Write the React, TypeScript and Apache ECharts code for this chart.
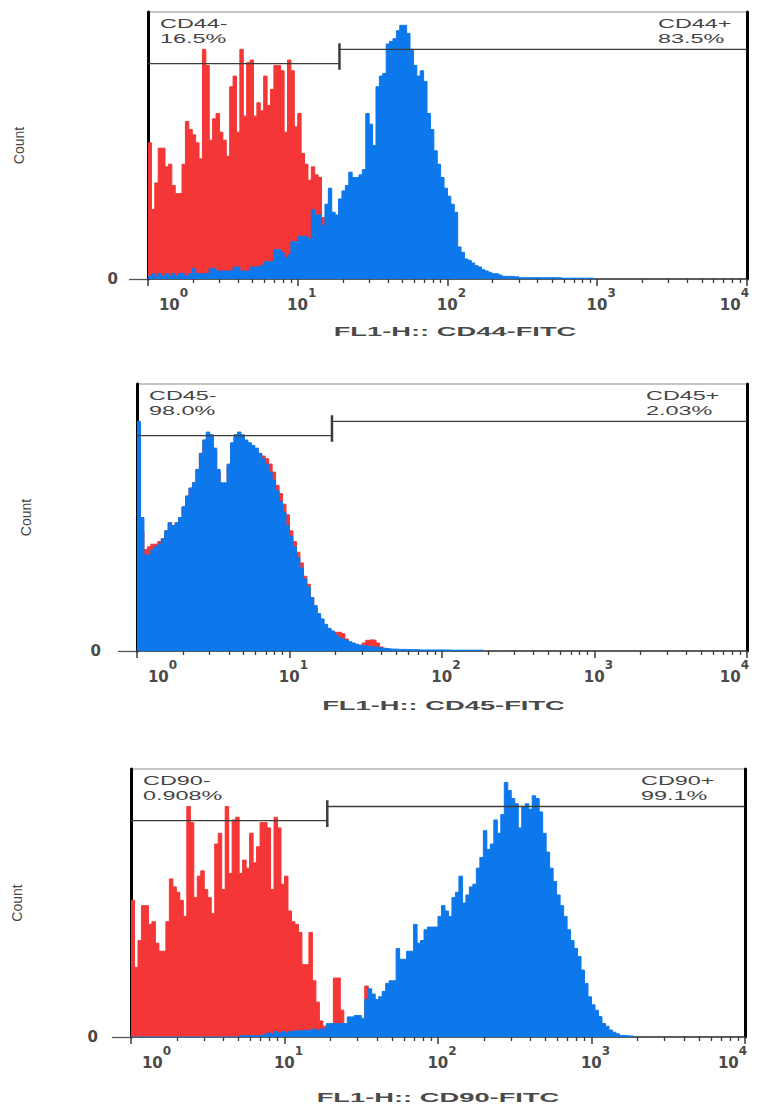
import { useEffect, useRef } from 'react';
import * as echarts from 'echarts';

// ---------- data (values are % of the panel's count axis) ----------
const BINS_PER_DECADE = 44; // histogram channels per log decade, first bin starts at 10^0
const DECADE_EXPONENTS = [0, 1, 2, 3, 4];
const MINOR_MULTIPLIERS = [2, 3, 4, 5, 6, 7, 8, 9];
const GATE_BOUNDARY = 19; // fluorescence value separating the - and + gates
const GATE_NEG_LEVEL = 80.7;
const GATE_POS_LEVEL = 86;

const CD44_CONTROL = [51, 26, 36, 49, 49, 42, 43, 35, 32, 32, 43, 59, 56, 54, 51, 45, 86, 80, 52, 60, 62, 55, 52, 46, 72, 76, 55, 86, 61, 81, 82, 61, 66, 63, 76, 65, 71, 80, 80, 78, 55, 82, 78, 57, 62, 47, 43, 37, 42, 39, 38, 23];
const CD44_STAINED = [1, 2, 1, 2, 1, 2, 1, 2, 1, 2, 2, 1, 2, 4, 2, 2, 2, 2, 4, 4, 3, 3, 3, 3, 3, 4.5, 4.5, 3, 3, 3, 4.5, 4.5, 4.5, 5, 6.5, 6.5, 6.5, 11, 11, 10, 8, 9, 14, 14, 16, 16, 16, 15, 26, 24, 24, 20, 28, 34, 25, 24, 30, 33, 35, 40, 38, 38, 39, 41, 62, 58, 50, 72, 76, 77, 88, 89, 90, 93, 95, 95, 92, 86, 80, 76, 78, 74, 62, 56, 48, 43, 38, 34, 31, 28, 25, 12, 10, 7.5, 7, 6, 5, 4.5, 3.5, 3, 2.5, 2, 2, 1.5, 1, 1, 1, 0.8, 0.8, 0.5, 0.5, 0.5, 0.5, 0.5, 0.5, 0.5, 0.5, 0.5, 0.5, 0.5, 0.5, 0.3, 0.3, 0.3, 0.3, 0.3, 0.3, 0.3, 0.3, 0.3, 0.3];

const CD45_CONTROL = [80, 45, 38, 39, 40, 40, 41, 42, 45, 48, 47, 48, 50, 54, 58, 61, 63, 68, 74, 79, 81, 80, 75, 67, 62, 62, 69, 77, 80, 81, 80, 78, 77, 76, 75, 74, 73, 72, 70, 67, 62, 59, 55, 51, 45, 41, 37, 33, 28, 25, 20, 16, 13, 10, 9, 8, 7, 7, 7, 6.5, 4.5, 3, 2.2, 2, 2.2, 3, 4, 4.2, 4, 3, 1.5, 0.8, 0.5, 0.4, 0.3, 0.2];
const CD45_STAINED = [86, 50, 36, 36, 38, 39, 40, 42, 45, 48, 47, 48, 50, 54, 58, 61, 63, 68, 74, 79, 82, 81, 76, 68, 63, 63, 70, 78, 81, 82, 81, 79, 78, 77, 76, 74, 72, 70, 67, 64, 60, 56, 52, 47, 43, 39, 35, 31, 27, 24, 20, 17, 14, 12, 10, 8.5, 7.5, 6, 5, 4.5, 4, 3.5, 3, 2.5, 2.2, 2, 1.8, 1.6, 1.5, 1.3, 1.1, 1, 0.8, 0.7, 0.7, 0.6, 0.6, 0.6, 0.5, 0.5, 0.5, 0.4, 0.4, 0.4, 0.4, 0.4, 0.4, 0.4, 0.4, 0.4, 0.3, 0.3, 0.3, 0.3, 0.3, 0.3, 0.3, 0.3, 0.3, 0.3];

const CD90_CONTROL = [51, 26, 36, 49, 49, 42, 43, 35, 32, 32, 43, 59, 56, 54, 51, 45, 86, 80, 52, 60, 62, 55, 52, 46, 72, 76, 55, 86, 61, 81, 82, 61, 66, 63, 76, 65, 71, 80, 80, 78, 55, 82, 78, 57, 60, 47, 43, 42, 39, 27, 27, 39, 21, 13, 6, 4, 3, 2, 22, 22, 10, 1, 0.5, 0.5, 0.3, 0.3, 3, 19];
const CD90_STAINED = [0, 0, 0, 0, 0, 0, 0, 0, 0, 0, 0, 0, 0, 0, 0, 0, 0, 0, 0, 0, 0, 0, 0, 0, 0, 0, 0, 0, 0, 0, 0, 0.5, 0.5, 0.5, 0.5, 0.5, 0.5, 0.5, 1, 1.5, 1, 2, 1.5, 2, 1.5, 2, 2, 2.5, 2, 2.5, 2.5, 2.5, 3, 2.5, 3, 3, 5, 5, 5, 5, 5, 5, 7.5, 7.5, 8, 8, 7, 14, 18, 16, 14, 15, 17, 20, 21, 21, 33, 29, 29, 32, 32, 42, 35, 36, 40, 41, 41, 41, 45, 49, 47, 45, 52, 54, 60, 50, 53, 56, 57, 63, 67, 77, 70, 72, 81, 76, 83, 95, 92, 89, 87, 78, 86, 87, 85, 90, 89, 84, 76, 69, 63, 58, 53, 49, 45, 40, 36, 33, 30, 25, 20, 15, 12, 10, 7.6, 5, 4, 2.6, 1.8, 1.2, 0.6, 0.5, 0.4, 0.4];

const MARKERS = ['CD44', 'CD45', 'CD90'];
const NEG_PERCENTS = ['16.5%', '98.0%', '0.908%'];
const POS_PERCENTS = ['83.5%', '2.03%', '99.1%'];
const X_TITLES = ['FL1-H:: CD44-FITC', 'FL1-H:: CD45-FITC', 'FL1-H:: CD90-FITC'];
const Y_TITLE = 'Count';
const CONTROLS = [CD44_CONTROL, CD45_CONTROL, CD90_CONTROL];
const STAINED = [CD44_STAINED, CD45_STAINED, CD90_STAINED];

// ---------- layout / style ----------
const LAYOUT = [
  { left: 148, top: 12, width: 614, height: 267, nameGap: 122, titleY: 332, zeroMargin: 30 },
  { left: 137, top: 384, width: 613, height: 267, nameGap: 104, titleY: 706, zeroMargin: 36 },
  { left: 131, top: 769, width: 614, height: 268, nameGap: 107, titleY: 1098, zeroMargin: 33 },
];
const RED = '#f43636';
const BLUE = '#0c78eb';
const INK = '#444444';
const TICK_INK = '#4a4a4a';
const TICK_FONT = 'DejaVu Sans';
const TEXT_FONT = 'Liberation Sans';

const MINOR_TICKS: number[] = [];
for (let d = 0; d < 4; d++) for (const m of MINOR_MULTIPLIERS) MINOR_TICKS.push(d + Math.log10(m));

function histogramPoints(values: number[]) {
  const pts = values.map((v, i) => [i / BINS_PER_DECADE, v]);
  pts.push([values.length / BINS_PER_DECADE, 0]);
  return pts;
}

export default function App() {
  const ref = useRef<HTMLDivElement>(null);
  useEffect(() => {
    const chart = echarts.init(ref.current!, null, { renderer: 'svg' });
    const grid: any[] = [];
    const xAxis: any[] = [];
    const yAxis: any[] = [];
    const series: any[] = [];
    const graphic: any[] = [];
    const gateX = Math.log10(GATE_BOUNDARY);
    const big = { fontFamily: TICK_FONT, fontWeight: 'bold', color: TICK_INK, fontSize: 15, lineHeight: 25, verticalAlign: 'bottom' };
    const small = { fontFamily: TICK_FONT, fontWeight: 'bold', color: TICK_INK, fontSize: 12, lineHeight: 12, verticalAlign: 'top' };

    LAYOUT.forEach((g, i) => {
      grid.push({ left: g.left, top: g.top, width: g.width, height: g.height, show: true, borderColor: '#8c8c8c', borderWidth: 1.2 });
      xAxis.push({
        type: 'value', gridIndex: i, min: 0, max: 4, position: 'bottom',
        axisLine: { show: true, onZero: false, lineStyle: { color: '#3a3a3a', width: 1.5 } },
        axisTick: { show: true, customValues: MINOR_TICKS, length: 4, lineStyle: { color: '#3a3a3a', width: 1.3 } },
        axisLabel: {
          show: true, customValues: DECADE_EXPONENTS, margin: 8,
          fontFamily: TICK_FONT, fontSize: 15, color: TICK_INK,
          formatter: (v: number) => {
            const e = Math.round(v);
            if (e === 0) return `{first|10}{sup|${e}}`;
            if (e === 4) return `{last|10}{supLast|${e}}`;
            return `{base|10}{sup|${e}}`;
          },
          rich: {
            base: { ...big, padding: [0, 0, 0, 8] },
            first: { ...big, padding: [0, 0, 0, 51] },
            last: { ...big },
            sup: { ...small },
            supLast: { ...small, padding: [0, 25, 0, 0] },
          },
        },
        splitLine: { show: false },
      });
      xAxis.push({
        type: 'value', gridIndex: i, min: 0, max: 4, position: 'bottom',
        axisLine: { show: false, onZero: false },
        axisTick: { show: true, customValues: DECADE_EXPONENTS, length: 7, lineStyle: { color: '#3a3a3a', width: 1.5 } },
        axisLabel: { show: false },
        splitLine: { show: false },
      });
      yAxis.push({
        type: 'value', gridIndex: i, min: 0, max: 100, position: 'left',
        name: Y_TITLE, nameLocation: 'middle', nameRotate: 90, nameGap: g.nameGap,
        nameTextStyle: { fontFamily: TEXT_FONT, fontSize: 14, color: INK },
        axisLine: { show: true, onZero: false, lineStyle: { color: '#000', width: 3 } },
        axisTick: { show: true, customValues: [0], length: 19, lineStyle: { color: '#555', width: 1.3 } },
        axisLabel: { show: true, customValues: [0], margin: g.zeroMargin, fontFamily: TICK_FONT, fontWeight: 'bold', fontSize: 15, color: TICK_INK },
        splitLine: { show: false },
      });
      yAxis.push({
        type: 'value', gridIndex: i, min: 0, max: 100, position: 'right',
        axisLine: { show: true, onZero: false, lineStyle: { color: '#000', width: 3 } },
        axisTick: { show: false }, axisLabel: { show: false }, splitLine: { show: false },
      });

      const common = { xAxisIndex: 2 * i, yAxisIndex: 2 * i, symbol: 'none', silent: true };
      series.push({
        ...common, type: 'line', name: `${MARKERS[i]} control`, data: histogramPoints(CONTROLS[i]), step: 'end',
        lineStyle: { color: RED, width: 1 }, itemStyle: { color: RED }, areaStyle: { color: RED, opacity: 1 }, z: 2,
      });
      series.push({
        ...common, type: 'line', name: `${MARKERS[i]}-FITC`, data: histogramPoints(STAINED[i]), step: 'end',
        lineStyle: { color: BLUE, width: 1 }, itemStyle: { color: BLUE }, areaStyle: { color: BLUE, opacity: 1 }, z: 3,
      });
      const gateStyle = { color: '#3c3c3c', width: 1.3 };
      series.push({ ...common, type: 'line', data: [[0, GATE_NEG_LEVEL], [gateX, GATE_NEG_LEVEL]], lineStyle: gateStyle, z: 5 });
      series.push({ ...common, type: 'line', data: [[gateX, GATE_POS_LEVEL], [4, GATE_POS_LEVEL]], lineStyle: gateStyle, z: 5 });
      series.push({ ...common, type: 'line', data: [[gateX, GATE_NEG_LEVEL - 2.3], [gateX, GATE_POS_LEVEL + 2.3]], lineStyle: { color: '#3c3c3c', width: 2.5 }, z: 5 });

      const labelStyle = { fill: INK, fontSize: 12, fontFamily: TEXT_FONT, lineHeight: 15, textAlign: 'left', textVerticalAlign: 'top' };
      graphic.push({ type: 'text', x: g.left + 12, y: g.top + 4, scaleX: 1.95, z: 10, style: { ...labelStyle, text: `${MARKERS[i]}-\n${NEG_PERCENTS[i]}` } });
      graphic.push({ type: 'text', x: g.left + g.width - 104, y: g.top + 4, scaleX: 1.95, z: 10, style: { ...labelStyle, text: `${MARKERS[i]}+\n${POS_PERCENTS[i]}` } });
      graphic.push({
        type: 'text', x: g.left + g.width / 2, y: g.titleY, scaleX: 2.1, z: 10,
        style: { text: X_TITLES[i], fill: '#4a4a4a', fontSize: 13, fontWeight: 'bold', fontFamily: TEXT_FONT, textAlign: 'center', textVerticalAlign: 'middle' },
      });
    });

    chart.setOption({ animation: false, backgroundColor: '#ffffff', grid, xAxis, yAxis, series, graphic });
    return () => chart.dispose();
  }, []);

  return <div ref={ref} style={{ position: 'fixed', left: 0, top: 0, width: 777, height: 1114, background: '#fff' }} />;
}
